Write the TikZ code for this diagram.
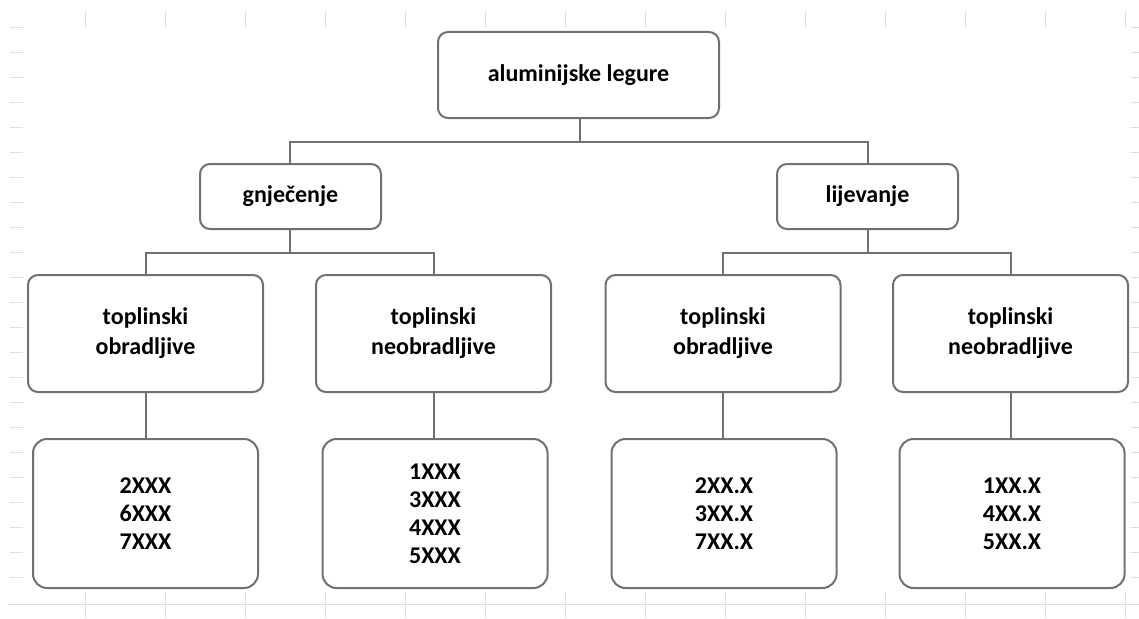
\documentclass[tikz,border=0pt]{standalone}
\usepackage{fontspec}
\setmainfont{Carlito}
\usepackage{tikz}

\definecolor{boxgray}{RGB}{112,112,112}
\definecolor{sheetgray}{RGB}{222,222,222}

\tikzset{
  box/.style={draw=boxgray, line width=2pt, fill=white, rounded corners=10pt,
    align=center, inner sep=0pt, font=\bfseries\fontsize{24}{30}\selectfont},
  smallbox/.style={box, minimum width=181pt, minimum height=65pt},
  typebox/.style={box, minimum width=235pt, minimum height=117pt},
  codebox/.style={box, rounded corners=14pt, minimum width=225pt, minimum height=149pt,
    font=\bfseries\fontsize{24}{28}\selectfont},
  link/.style={draw=boxgray, line width=2pt},
  sheetline/.style={draw=sheetgray, line width=0.9pt}
}

\begin{document}
\begin{tikzpicture}[x=1pt,y=-1pt]

\useasboundingbox (0,0) rectangle (1139,618);

\foreach \x in {85,165,...,1125} {
  \draw [sheetline] (\x,11) -- (\x,28);
  \draw [sheetline] (\x,592) -- (\x,618);
}
\foreach \y in {27,52,...,580} {
  \draw [sheetline] (10,\y) -- (23,\y);
  \draw [sheetline] (1131,\y) -- (1139,\y);
}
\draw [sheetline] (8,604) -- (1139,604);

\node [box, minimum width=281pt, minimum height=86pt] (root) at (578.5,75) {aluminijske legure};

\node [smallbox] (gnj) at (290.5,196.5) {gnječenje};
\node [smallbox] (lij) at (867.5,196.5) {lijevanje};

\node [typebox] (gnjTO) at (145.5,333.5) {toplinski\\obradljive};
\node [typebox] (gnjTN) at (433.5,333.5) {toplinski\\neobradljive};
\node [typebox] (lijTO) at (723,333.5) {toplinski\\obradljive};
\node [typebox] (lijTN) at (1010.5,333.5) {toplinski\\neobradljive};

\node [codebox] (gnjTOc) at (145.5,513.5) {2XXX\\6XXX\\7XXX};
\node [codebox] (gnjTNc) at (435,513.5) {1XXX\\3XXX\\4XXX\\5XXX};
\node [codebox] (lijTOc) at (724,513.5) {2XX.X\\3XX.X\\7XX.X};
\node [codebox] (lijTNc) at (1012,513.5) {1XX.X\\4XX.X\\5XX.X};

\coordinate (bus0) at (580,142);
\coordinate (bus1) at (290,253);
\coordinate (bus2) at (868,253);

\draw [link] (root.south -| bus0) -- (bus0);
\draw [link] (gnj.north -| bus1) |- (bus0) -| (lij.north -| bus2);
\draw [link] (gnj.south -| bus1) -- (bus1);
\draw [link] (lij.south -| bus2) -- (bus2);
\draw [link] (gnjTO.north) |- (bus1) -| (gnjTN.north);
\draw [link] (lijTO.north) |- (bus2) -| (lijTN.north);

\draw [link] (gnjTO.south) -- (gnjTOc.north -| gnjTO.south);
\draw [link] (gnjTN.south) -- (gnjTNc.north -| gnjTN.south);
\draw [link] (lijTO.south) -- (lijTOc.north -| lijTO.south);
\draw [link] (lijTN.south) -- (lijTNc.north -| lijTN.south);

\end{tikzpicture}
\end{document}
